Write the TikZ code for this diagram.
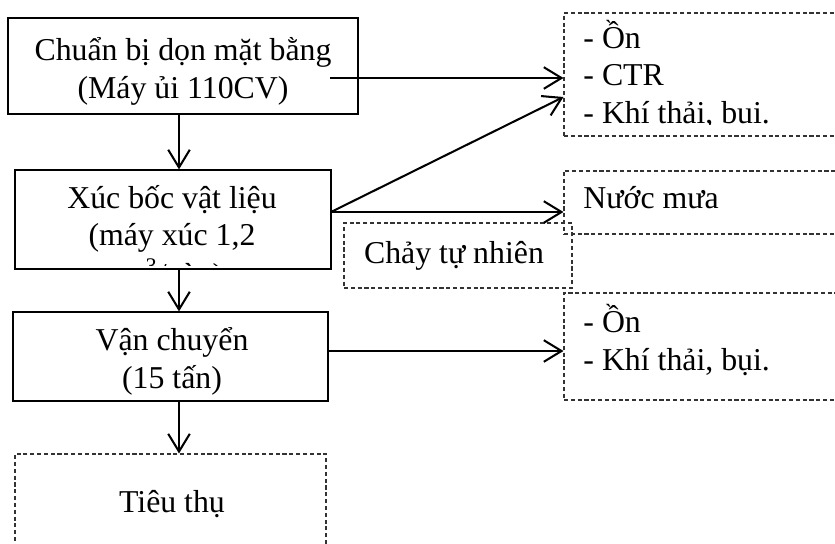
\documentclass[tikz,border=0pt]{standalone}
\usepackage{fontspec}
\setmainfont{Liberation Serif}
\usetikzlibrary{arrows.meta}
\newcommand\pxu{0.44pt}
\tikzset{
  procbox/.style={draw, line width=0.5pt, inner sep=0pt},
  outbox/.style={draw=black!80, dash pattern=on 1.8pt off 1.2pt, line width=0.45pt, inner sep=0pt},
  boxtext/.style={align=center, inner sep=0pt, font=\fontsize{14}{16.3}\selectfont},
  listtext/.style={align=left, inner sep=0pt, font=\fontsize{14}{16.3}\selectfont},
  flow/.style={line width=0.9pt, -{Straight Barb[length=7.8pt,width=9.5pt]}}
}
\begin{document}
\begin{tikzpicture}[x=\pxu, y=-\pxu]
    \clip (0,0) rectangle (835,543);
    % process boxes
    \node[procbox, minimum width=350*\pxu, minimum height=96*\pxu] (chuanbi) at (183,66) {};
    \node[procbox, minimum width=316*\pxu, minimum height=99*\pxu] (xucboc) at (173,219.5) {};
    \node[procbox, minimum width=315*\pxu, minimum height=89*\pxu] (vanchuyen) at (170.5,356.5) {};
    \node[outbox, minimum width=311*\pxu, minimum height=120*\pxu] (tieuthu) at (170.5,514) {};
    % output boxes
    \node[outbox, minimum width=336*\pxu, minimum height=123*\pxu] (r1) at (732,74.5) {};
    \node[outbox, minimum width=336*\pxu, minimum height=63*\pxu] (r2) at (732,202.5) {};
    \node[outbox, minimum width=228*\pxu, minimum height=65*\pxu] (chay) at (458,255.5) {};
    \node[outbox, minimum width=336*\pxu, minimum height=107*\pxu] (r3) at (732,346.5) {};

    % texts (base = last line)
    \node[boxtext, anchor=base] (chuanbitxt) at (183,98) {Chuẩn bị dọn mặt bằng\\(Máy ủi 110CV)};
    \begin{scope}
    \clip (xucboc.north west) rectangle ([shift={(0,-4)}]xucboc.south east);
    \node[boxtext, anchor=base] (xucboctxt) at (172,285) {Xúc bốc vật liệu\\(máy xúc 1,2\\[1pt]m\textsuperscript{3}/gàu)};
    \end{scope}
    \node[boxtext, anchor=base] (vanchuyentxt) at (172,388) {Vận chuyển\\(15 tấn)};
    \node[boxtext, anchor=base] (tieuthutxt) at (172,512) {Tiêu thụ};

    \begin{scope}
    \clip (r1.north west) rectangle (835,124);
    \node[listtext, anchor=base west] (r1txt) at (583,123) {- Ồn\\- CTR\\- Khí thải, bụi.};
    \end{scope}
    \node[listtext, anchor=base west] (r2txt) at (583,208) {Nước mưa};
    \node[boxtext, anchor=base] (chaytxt) at (454,263) {Chảy tự nhiên};
    \node[listtext, anchor=base west] (r3txt) at (583,370) {- Ồn\\- Khí thải, bụi.};

    % connectors
    \coordinate (spine) at (179,0);
    \coordinate (cbout) at (330,78);
    \coordinate (xbout) at (331,212);
    \coordinate (vcout) at (328,351);
    \draw[flow] (chuanbi.south -| spine) -- (xucboc.north -| spine);
    \draw[flow] (xucboc.south -| spine) -- (vanchuyen.north -| spine);
    \draw[flow] (vanchuyen.south -| spine) -- (tieuthu.north -| spine);
    \draw[flow] (cbout) -- (cbout -| r1.west);
    \draw[flow] (xbout) -- ([shift={(0,22.5)}]r1.west);
    \draw[flow] (xbout) -- (xbout -| r2.west);
    \draw[flow] (vcout) -- (vcout -| r3.west);
\end{tikzpicture}
\end{document}
